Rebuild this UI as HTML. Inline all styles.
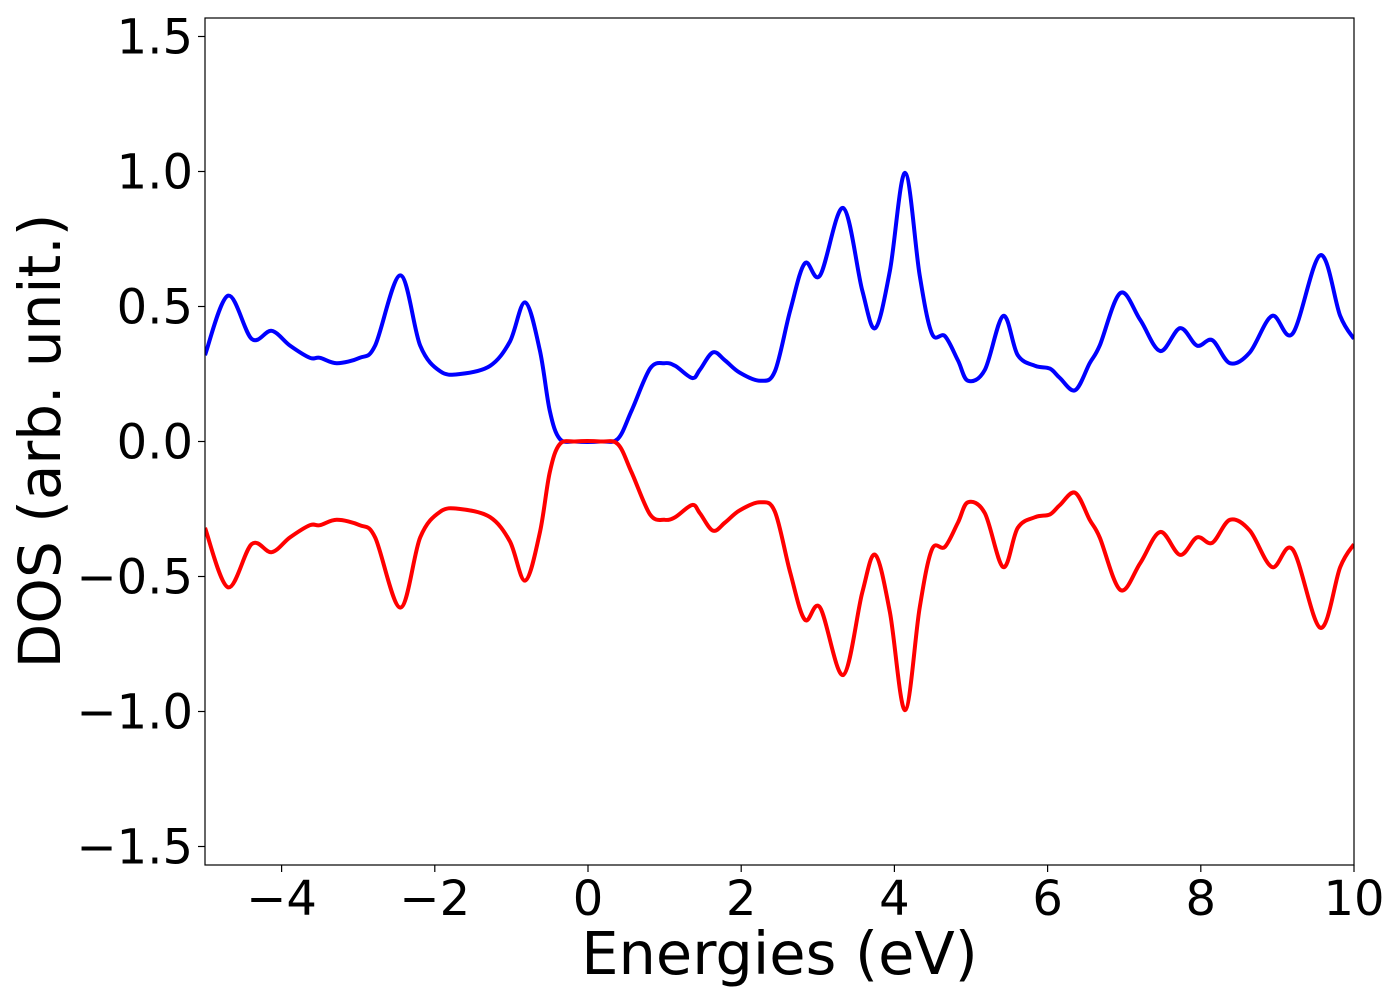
<!DOCTYPE html>
<html><head><meta charset="utf-8"><style>
html,body{margin:0;padding:0;background:#fff;}
svg text{font-family:"DejaVu Sans","Liberation Sans",sans-serif;fill:#000;}
</style></head><body>
<svg id="chart" width="1400" height="1000" viewBox="0 0 1400 1000" xmlns="http://www.w3.org/2000/svg">
<g id="plot"></g>
</svg>
<script>
const energies = [-5,-4.7,-4.39,-4.13,-3.89,-3.63,-3.5,-3.28,-2.98,-2.78,-2.45,-2.19,-1.93,-1.67,-1.28,-1.02,-0.82,-0.63,-0.5,-0.37,-0.17,0.16,0.39,0.57,0.81,1.0,1.14,1.36,1.46,1.63,1.79,1.98,2.25,2.44,2.64,2.83,3.03,3.33,3.58,3.75,3.94,4.14,4.33,4.49,4.66,4.83,4.96,5.18,5.42,5.61,5.84,6.03,6.16,6.36,6.55,6.68,6.95,7.21,7.47,7.73,7.95,8.15,8.38,8.64,8.93,9.2,9.56,9.82,10];
const dosUp = [0.32,0.54,0.38,0.41,0.355,0.31,0.31,0.29,0.31,0.355,0.615,0.355,0.26,0.25,0.28,0.37,0.515,0.34,0.115,0.01,0,0,0.01,0.115,0.27,0.29,0.28,0.235,0.265,0.33,0.30,0.255,0.225,0.26,0.485,0.66,0.615,0.865,0.56,0.42,0.63,0.995,0.615,0.40,0.39,0.30,0.225,0.265,0.465,0.32,0.28,0.27,0.235,0.19,0.29,0.355,0.55,0.45,0.335,0.42,0.355,0.375,0.29,0.33,0.465,0.40,0.69,0.465,0.38];
const dosDown = dosUp.map(v => -v);
const xTicks = [-4,-2,0,2,4,6,8,10];
const yTicks = [-1.5,-1.0,-0.5,0.0,0.5,1.0,1.5];

const X0=205, X1=1354, Y0=18, Y1=865;
const xMin=-5, xMax=10, yMin=-1.5685, yMax=1.5685;
const xs = v => X0 + (v - xMin) / (xMax - xMin) * (X1 - X0);
const ys = v => Y1 - (v - yMin) / (yMax - yMin) * (Y1 - Y0);
const NS = "http://www.w3.org/2000/svg";
const g = document.getElementById('plot');
function mk(tag, attrs){const e=document.createElementNS(NS,tag);for(const k in attrs)e.setAttribute(k,attrs[k]);g.appendChild(e);return e;}
function fmt(v){const s=v.toFixed(1);return v<0?'\u2212'+s.slice(1):s;}
function xfmt(v){return v<0?'\u2212'+(-v):String(v);}

function pathFor(vals){
  const p = energies.map((e,i)=>[xs(e), ys(vals[i])]);
  let d = 'M'+p[0][0].toFixed(1)+','+p[0][1].toFixed(1);
  for(let i=0;i<p.length-1;i++){
    const a=p[Math.max(i-1,0)], b=p[i], c=p[i+1], n=p[Math.min(i+2,p.length-1)];
    const t=6;
    const c1=[b[0]+(c[0]-a[0])/t, b[1]+(c[1]-a[1])/t];
    const c2=[c[0]-(n[0]-b[0])/t, c[1]-(n[1]-b[1])/t];
    d+=' C'+c1[0].toFixed(1)+','+c1[1].toFixed(1)+' '+c2[0].toFixed(1)+','+c2[1].toFixed(1)+' '+c[0].toFixed(1)+','+c[1].toFixed(1);
  }
  return d;
}
const clip = mk('clipPath',{id:'cp'});
const cr = document.createElementNS(NS,'rect');
cr.setAttribute('x',X0);cr.setAttribute('y',Y0);cr.setAttribute('width',X1-X0);cr.setAttribute('height',Y1-Y0);
clip.appendChild(cr);

const up = mk('path',{d:pathFor(dosUp),fill:'none',stroke:'#0000ff','stroke-width':4,'clip-path':'url(#cp)','stroke-linejoin':'round'});


const dn = mk('path',{d:pathFor(dosDown),fill:'none',stroke:'#ff0000','stroke-width':4,'clip-path':'url(#cp)','stroke-linejoin':'round'});



const frame = mk('rect',{x:X0,y:Y0,width:X1-X0,height:Y1-Y0,fill:'none',stroke:'#000','stroke-width':1.2});



xTicks.forEach(v=>{
  const x=xs(v);
  const t=mk('line',{x1:x,x2:x,y1:Y1,y2:Y1+7,stroke:'#000','stroke-width':1.2});
  
  
  const l=mk('text',{x:x,y:Y1+50,'text-anchor':'middle','font-size':48});
  l.textContent=xfmt(v);
  
  
});
yTicks.forEach(v=>{
  const y=ys(v);
  const t=mk('line',{x1:X0-7,x2:X0,y1:y,y2:y,stroke:'#000','stroke-width':1.2});
  
  
  const l=mk('text',{x:X0-12,y:y+17,'text-anchor':'end','font-size':48});
  l.textContent=fmt(v);
  
  
});
const xl=mk('text',{x:(X0+X1)/2,y:974,'text-anchor':'middle','font-size':59});
xl.textContent='Energies (eV)';


const yl=mk('text',{x:0,y:0,'text-anchor':'middle','font-size':58,transform:'translate(60,441) rotate(-90)'});
yl.textContent='DOS (arb. unit.)';


</script>
</body></html>
